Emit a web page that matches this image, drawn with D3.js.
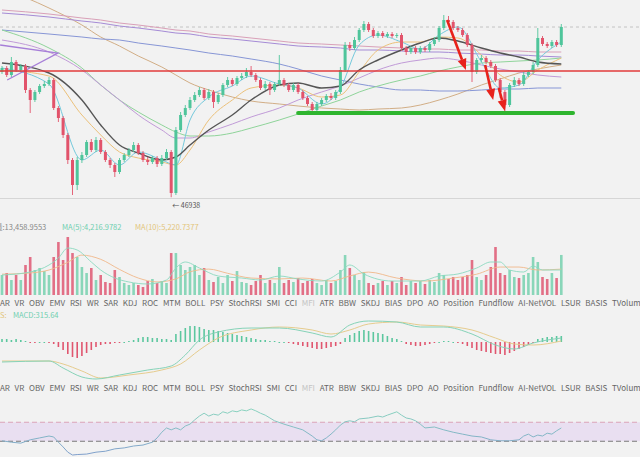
<!DOCTYPE html>
<html><head><meta charset="utf-8">
<script src="https://cdn.jsdelivr.net/npm/d3@7"></script>
<style>html,body{margin:0;padding:0;background:#f2f2f2;overflow:hidden}svg{display:block}</style>
</head><body><svg id="c" width="640" height="457"></svg>
<script>
// ---------- DATA ----------
// candles: [open, high, low, close]
const candles = [
[53200,53500,53100,53400],[53400,53500,52950,53050],[53050,53950,52950,53700],[53700,53800,53200,53300],[53300,53600,53200,53500],
[53500,53600,52150,52300],[52300,52400,51150,51800],[51800,52300,51700,52200],[52200,52600,52100,52500],[52500,52750,52400,52600],
[52600,52950,52500,52800],[52800,52900,51300,51400],[51400,51500,50700,50900],[50900,51000,49900,50050],[50050,50150,48600,48800],
[48800,48900,47050,47550],[47550,48950,47300,48800],[48800,49200,48650,49050],[49050,49800,48950,49700],[49700,49850,49200,49300],
[49300,49950,49200,49800],[49800,49900,49100,49200],[49200,49300,48700,48800],[48800,48900,48400,48550],[48550,48650,47950,48200],
[48200,48900,48100,48800],[48800,49150,48700,49050],[49050,49400,48950,49300],[49300,49700,49200,49550],[49550,49650,49050,49150],
[49150,49250,48700,48800],[48800,48950,48550,48700],[48700,49000,48600,48900],[48900,49000,48450,48600],[48600,49050,48500,48900],
[48900,49350,48800,49200],[49200,49300,46938,47150],[47150,50450,47050,50300],[50300,51200,50200,51050],[51050,51550,50950,51400],
[51400,51950,51300,51800],[51800,52200,51700,52050],[52050,52450,51950,52300],[52300,52400,51800,51900],[51900,52350,51800,52200],
[52200,52300,51400,51700],[51700,52150,51600,52050],[52050,52650,51950,52550],[52550,52950,52450,52800],[52800,52900,52500,52600],
[52600,53000,52500,52900],[52900,53150,52800,53000],[53000,53400,52900,53200],[53200,53500,52950,53050],[53050,53150,52700,52800],
[52800,52900,52300,52400],[52400,52750,52300,52600],[52600,52700,52050,52300],[52300,52700,52200,52600],[52600,54050,52500,52800],
[52800,52900,52450,52550],[52550,52650,52200,52300],[52300,52650,52200,52550],[52550,52650,52100,52200],[52200,52300,51800,51900],
[51900,52000,51500,51600],[51600,51700,51050,51300],[51300,51700,51200,51600],[51600,51900,51500,51800],[51800,52100,51700,52000],
[52000,52150,51800,51900],[51900,52300,51800,52200],[52200,53450,52100,53300],[53300,54700,53200,54550],[54550,54700,54250,54400],
[54400,54950,54300,54800],[54800,55400,54700,55300],[55300,55750,55200,55600],[55600,55700,55200,55300],[55300,55400,54900,55000],
[55000,55250,54900,55150],[55150,55250,54900,55000],[55000,55200,54900,55100],[55100,55200,54900,55000],[55000,55150,54900,55050],
[55050,55150,54250,54400],[54400,54500,54050,54200],[54200,54500,54100,54400],[54400,54500,54100,54200],[54200,54500,54100,54400],
[54400,54500,54200,54300],[54300,54700,54200,54600],[54600,54950,54500,54800],[54800,55500,54700,55400],[55400,56050,55300,55800],
[55800,56000,55600,55700],[55700,55800,55300,55400],[55400,55500,55200,55300],[55300,55400,54950,55050],[55050,55150,54450,54550],
[54550,54650,52700,53200],[53200,53900,53100,53800],[53800,54050,53700,53900],[53900,54000,53600,53700],[53700,53800,53400,53500],
[53500,53600,52700,52800],[52800,52900,51900,52200],[52200,52300,51200,51550],[51550,52650,51450,52550],[52550,52950,52450,52800],
[52800,52900,52500,52600],[52600,53200,52500,53050],[53050,53300,52950,53200],[53200,53700,53100,53550],[53550,55400,53450,54900],
[54900,55000,54500,54600],[54600,54700,54400,54500],[54500,54800,54400,54700],[54700,54800,54450,54550],[54550,55600,54450,55450]
];
const volumes = [6720,7390,5040,6720,5040,10080,12770,8400,9070,8060,6720,12770,17810,11760,19490,14110,12770,9410,7390,9070,
5040,6720,4370,4030,8400,6050,4030,3360,4030,3360,2690,4700,5380,4030,4700,4030,14110,14110,10080,8400,
9410,10080,6720,9070,5040,4370,6050,4030,6720,4700,8060,4370,4030,3360,4700,6720,4030,5040,4030,9410,
4030,5040,4370,5710,4030,4700,5380,4030,3360,5040,4030,4700,8400,13440,9070,6720,5040,7730,4030,3360,
4030,4700,3360,4700,4030,6050,3360,4700,4030,4700,3700,5040,4370,7390,6720,5380,6050,5040,6050,6720,
11760,6050,5040,6720,9410,16130,7390,6720,8400,6050,5710,6720,7390,12770,11090,6050,5380,7390,5710,13459];

// moving averages of price, read at sample candle indices
const maIdx = [0,10,17,21,25,29,34,37,40,44,49,53,59,63,68,72,76,80,85,89,93,97,102,106,110,114,119];
const maDark = [53650,53150,51800,50550,49550,49150,48800,48950,49550,50300,51050,51800,52550,52650,52400,52500,53300,53800,54300,54650,54900,54750,54400,54150,53950,53700,53600];
const maPurple = [56150,55950,55750,55650,55500,55400,55250,55150,55100,54950,54850,54750,54600,54500,54450,54400,54300,54300,54250,54200,54200,54150,54100,54050,54050,54000,53950];
const maPink = [56300,56100,55900,55800,55650,55550,55400,55300,55250,55100,55000,54900,54750,54650,54600,54550,54500,54450,54400,54350,54350,54300,54300,54250,54250,54200,54200];
const maBlue = [55300,55100,54950,54850,54800,54650,54500,54400,54300,54150,54000,53850,53600,53350,53000,52800,52600,52450,52300,52300,52250,52250,52300,52350,52350,52400,52400];
const maTan = [57400,56400,55550,54950,54500,54000,53450,53050,52650,52300,51950,51750,51600,51500,51400,51350,51300,51350,51400,51550,51800,52100,52550,52850,53150,53350,53550];
const maGreen = [55300,54400,53400,52550,51800,51200,50550,50200,50000,50000,50150,50400,50800,51100,51500,51800,52200,52500,52800,53000,53250,53450,53650,53700,53750,53800,53900];
const maOrange = [53300,53000,51050,50050,49200,48900,48700,48550,49300,50800,51800,52400,52550,52400,51950,52050,53200,54300,54700,54700,54950,54900,54050,53050,52700,53300,53900];
const maLightBlue = [53400,52600,48800,49300,48550,49200,48800,48550,50800,51950,52500,53000,52600,52400,51600,52400,54550,55050,54700,54350,55050,55450,53700,52400,52550,53800,54700];
const maLavender = [54800,54200,53300,52550,51800,51050,50300,49900,49900,50200,50600,50950,51400,51800,52200,52500,52900,53300,53650,53800,53900,53800,53550,53350,53200,53050,52950];

// volume moving averages
const vma5Idx = [0,6,10,12,14,16,19,21,24,27,31,35,37,39,42,46,51,55,59,63,68,72,74,77,83,89,93,97,101,104,106,108,111,113,115,119];
const vma5 = [6720,7730,10080,12430,15790,15120,11090,8400,5710,4370,3700,5040,9070,11090,9070,6380,5710,5040,6380,5380,4700,7730,10080,7060,4700,4700,6380,7060,9070,11090,11090,8400,7730,9740,8400,8400];
const vma10Idx = [0,6,10,14,17,21,25,29,33,37,40,44,48,53,59,64,70,74,78,84,90,96,101,106,110,114,119];
const vma10 = [7000,7400,8400,11000,13400,12000,8600,5700,4400,5400,7800,8700,7300,5700,5400,5700,4700,6400,7700,5700,4700,5700,7000,9400,9400,8400,8700];

// MACD histogram per candle, DIF / DEA at sample indices
const macdHist = [180,180,120,180,120,60,-60,-60,0,0,-60,-120,-300,-480,-720,-900,-960,-840,-660,-480,
-300,-180,-120,-120,-60,-60,0,60,120,240,300,300,240,240,180,180,120,480,660,840,
960,960,900,780,720,720,660,600,540,480,420,360,300,240,180,120,120,60,60,0,
0,-60,-120,-180,-240,-300,-360,-420,-420,-360,-300,-240,-120,240,420,540,660,720,660,600,
540,480,360,240,180,60,-120,-180,-240,-240,-180,-120,-60,0,60,60,0,-60,-120,-240,
-360,-480,-540,-600,-660,-720,-720,-780,-660,-540,-420,-300,-180,-60,180,240,300,300,360,360];
const difIdx = [0,10,13,17,20,25,31,36,39,42,46,53,59,66,70,74,78,84,89,94,100,105,109,113,119];
const dif = [-1200,-1140,-1560,-2100,-2220,-1980,-1680,-1440,-780,120,600,840,840,540,300,1020,1260,1200,900,900,480,-180,-420,-60,240];
const deaIdx = [0,10,13,17,21,27,34,38,42,46,53,59,66,70,74,78,84,89,94,100,105,109,113,119];
const dea = [-1140,-1140,-1320,-1740,-2160,-1980,-1680,-1320,-480,240,720,900,720,480,720,1080,1200,1020,960,720,240,-120,-180,60];

// RSI at sample indices
const rsiIdx = [0,2,4,6,8,10,11,12,13,14,15,16,18,20,22,24,26,28,30,32,33,34,35,36,37,38,39,40,41,42,43,44,45,46,47,48,49,50,51,52,53,54,55,56,57,58,60,62,64,66,67,68,69,70,71,72,73,74,75,76,78,80,81,82,84,85,86,87,88,89,90,92,94,96,98,100,102,104,106,108,110,111,112,113,114,115,116,117,118,119];
const rsi = [31,28,26,33,37,41,39,28,18,7,1,2,3,7,9,14,16,20,22,28,37,49,58,54,58,54,62,66,75,83,89,83,87,85,92,89,94,92,96,94,98,94,89,85,79,73,66,60,54,41,33,31,37,45,54,64,71,73,71,77,79,83,81,85,92,85,79,77,73,66,58,60,54,49,45,41,39,33,31,31,33,41,45,39,43,41,47,45,52,58];

// annotations (candle index, price)
const resistanceLevel = 53250;
const supportLevel = 51150, supportFrom = 63, supportTo = 121.5;
const dashedLevel = 55450;
const arrows = [[94.7,55800,98.7,53300],[102.8,53550,104.5,51800],[105.7,52400,107,51250]];
const wedge = [[-0.4,54550],[11.9,54150],[1.1,52800]];
const lowIdx = 36, lowValue = 46938;

const tabs = ["AR","VR","OBV","EMV","RSI","WR","SAR","KDJ","ROC","MTM","BOLL","PSY","StochRSI","SMI","CCI","MFI","ATR","BBW","SKDJ","BIAS","DPO","AO","Position","Fundflow","AI-NetVOL","LSUR","BASIS","TVolume"];
const volLabel = {sym:"量:", val:"13,458.9553", ma5:"MA(5):4,216.9782", ma10:"MA(10):5,220.7377"};
const macdLabel = {pre:"S:", val:"MACD:315.64"};

// ---------- DRAW ----------
const svg = d3.select("#c");
const W = 640;
const FONT = "'Noto Sans CJK SC','Noto Sans',sans-serif";
const UP = "#4fc59b", DOWN = "#e2536b";

const x = d3.scaleLinear().domain([0,119]).range([2,561.3]);
const yP = d3.scaleLinear().domain([46800,56800]).range([200,0]);
const yV = d3.scaleLinear().domain([0,20000]).range([295,235.5]);
const yM = d3.scaleLinear().domain([-2580,2520]).range([385,300]);
const yR = d3.scaleLinear().domain([0,100]).range([455.5,408]);

svg.append("rect").attr("width",640).attr("height",457).attr("fill","#f2f2f2");

const defs = svg.append("defs");
defs.append("clipPath").attr("id","mainClip").append("rect").attr("x",0).attr("y",0).attr("width",640).attr("height",198);
const grad = defs.append("linearGradient").attr("id","rsiGrad").attr("gradientUnits","userSpaceOnUse")
  .attr("x1",0).attr("y1",405).attr("x2",0).attr("y2",457);
grad.append("stop").attr("offset","0%").attr("stop-color","#8ad8bd");
grad.append("stop").attr("offset","100%").attr("stop-color","#7f9ccc");

// ---- main chart ----
const main = svg.append("g").attr("clip-path","url(#mainClip)");
main.append("line").attr("x1",0).attr("x2",W).attr("y1",yP(dashedLevel)).attr("y2",yP(dashedLevel))
  .attr("stroke","#b8b8b8").attr("stroke-width",0.8).attr("stroke-dasharray","3,3");

const lineGen = (idx, vals, ys) => d3.line().x((d,i)=>x(idx[i])).y(d=>ys(d)).curve(d3.curveMonotoneX)(vals);
const mas = [
  [maTan,"#d2ae86",1],[maPink,"#d9a0b8",1],[maPurple,"#a58bd6",1],[maBlue,"#8796d6",1],
  [maGreen,"#8fd49a",1],[maLavender,"#c19bd8",1],[maOrange,"#ecc17a",1],[maLightBlue,"#74c9dc",1],[maDark,"#555555",1.4]
];
mas.forEach(([v,c,w]) => main.append("path").attr("d",lineGen(maIdx,v,yP)).attr("fill","none").attr("stroke",c).attr("stroke-width",w));

// purple wedge drawing
main.append("path").attr("d",d3.line().x(d=>x(d[0])).y(d=>yP(d[1]))(wedge))
  .attr("fill","none").attr("stroke","#a77fd8").attr("stroke-width",1.3);

// candles
const cg = main.append("g");
candles.forEach((d,i)=>{
  const [o,h,l,c] = d; const col = c>=o?UP:DOWN; const cx = x(i);
  cg.append("line").attr("x1",cx).attr("x2",cx).attr("y1",yP(h)).attr("y2",yP(l)).attr("stroke",col).attr("stroke-width",0.9);
  const top = yP(Math.max(o,c)), bot = yP(Math.min(o,c));
  cg.append("rect").attr("x",cx-1.5).attr("y",top).attr("width",3).attr("height",Math.max(1,bot-top)).attr("fill",col);
});

// resistance & support
main.append("line").attr("x1",0).attr("x2",W).attr("y1",yP(resistanceLevel)).attr("y2",yP(resistanceLevel))
  .attr("stroke","#e23b3b").attr("stroke-width",1.5);
main.append("line").attr("x1",x(supportFrom)).attr("x2",x(supportTo)).attr("y1",yP(supportLevel)).attr("y2",yP(supportLevel))
  .attr("stroke","#2fb52f").attr("stroke-width",4).attr("stroke-linecap","round");

// arrows
arrows.forEach(([i0,p0,i1,p1])=>{
  const x0=x(i0),y0=yP(p0),x1=x(i1),y1=yP(p1);
  const dx=x1-x0,dy=y1-y0,L=Math.hypot(dx,dy),ux=dx/L,uy=dy/L;
  const hl=11,hw=4.5;
  const bx=x1-ux*hl,by=y1-uy*hl;
  main.append("line").attr("x1",x0).attr("y1",y0).attr("x2",bx).attr("y2",by).attr("stroke","#e8221b").attr("stroke-width",2.6);
  main.append("path").attr("d",`M${x1},${y1}L${bx-uy*hw},${by+ux*hw}L${bx+uy*hw},${by-ux*hw}Z`).attr("fill","#e8221b");
});

svg.append("line").attr("x1",0).attr("x2",W).attr("y1",198.5).attr("y2",198.5).attr("stroke","#d6d6d6").attr("stroke-width",1);
svg.append("text").attr("x",x(lowIdx)+1).attr("y",208).attr("font-family",FONT).attr("font-size",7).attr("fill","#555")
  .text("← "+lowValue);

// ---- volume ----
svg.append("text").attr("x",-5).attr("y",230).attr("font-family",FONT).attr("font-size",7.5).attr("fill","#888")
  .text(volLabel.sym+volLabel.val);
svg.append("text").attr("x",62).attr("y",230).attr("font-family",FONT).attr("font-size",7.5).attr("fill","#6fcfb0").text(volLabel.ma5);
svg.append("text").attr("x",135).attr("y",230).attr("font-family",FONT).attr("font-size",7.5).attr("fill","#e3c57a").text(volLabel.ma10);
const vg = svg.append("g");
volumes.forEach((v,i)=>{
  const [o,,,c] = candles[i];
  vg.append("rect").attr("x",x(i)-1.3).attr("y",yV(v)).attr("width",2.6).attr("height",yV(0)-yV(v))
    .attr("fill",c>=o?"#7dd3b3":"#e0607a").attr("opacity",0.9);
});
svg.append("path").attr("d",d3.line().x((d,i)=>x(vma10Idx[i])).y(d=>yV(d)).curve(d3.curveMonotoneX)(vma10))
  .attr("fill","none").attr("stroke","#f0b88a").attr("stroke-width",0.9);
svg.append("path").attr("d",d3.line().x((d,i)=>x(vma5Idx[i])).y(d=>yV(d)).curve(d3.curveMonotoneX)(vma5))
  .attr("fill","none").attr("stroke","#8bd9bf").attr("stroke-width",0.9);

// ---- tabs ----
function drawTabs(yb){
  const g = svg.append("g");
  const nodes = tabs.map(t => g.append("text").attr("y",yb).attr("font-family",FONT).attr("font-size",8)
     .attr("fill", t==="MFI" ? "#c4c4c4" : "#666").text(t));
  const widths = nodes.map(n=>n.node().getComputedTextLength());
  const total = d3.sum(widths.slice(0,-1));
  const gap = (612 - total)/(tabs.length-1);
  let cx = 0;
  nodes.forEach((n,i)=>{ n.attr("x",cx); cx += widths[i]+gap; });
}
drawTabs(306);
drawTabs(391);

// ---- MACD ----
svg.append("text").attr("x",0).attr("y",318).attr("font-family",FONT).attr("font-size",7.5).attr("fill","#e3c57a").text(macdLabel.pre);
svg.append("text").attr("x",13).attr("y",318).attr("font-family",FONT).attr("font-size",7.5).attr("fill","#6fcfb0").text(macdLabel.val);
const mg = svg.append("g");
macdHist.forEach((v,i)=>{
  const y0 = yM(0), y1 = yM(v);
  mg.append("rect").attr("x",x(i)-0.8).attr("y",Math.min(y0,y1)).attr("width",1.6).attr("height",Math.max(1,Math.abs(y1-y0)))
    .attr("fill", v>=0 ? "#5cc79f" : "#e0566f");
});
svg.append("path").attr("d",d3.line().x((d,i)=>x(deaIdx[i])).y(d=>yM(d)).curve(d3.curveMonotoneX)(dea))
  .attr("fill","none").attr("stroke","#e6cc8e").attr("stroke-width",1);
svg.append("path").attr("d",d3.line().x((d,i)=>x(difIdx[i])).y(d=>yM(d)).curve(d3.curveMonotoneX)(dif))
  .attr("fill","none").attr("stroke","#86d3b8").attr("stroke-width",1);

// ---- RSI ----
svg.append("rect").attr("x",0).attr("y",yR(70)).attr("width",W).attr("height",yR(30)-yR(70)).attr("fill","#e9dff1");
svg.append("line").attr("x1",0).attr("x2",W).attr("y1",yR(70)).attr("y2",yR(70)).attr("stroke","#dba2b8").attr("stroke-width",1).attr("stroke-dasharray","5,3");
svg.append("line").attr("x1",0).attr("x2",W).attr("y1",yR(30)).attr("y2",yR(30)).attr("stroke","#7a7a7a").attr("stroke-width",1).attr("stroke-dasharray","5,3");
svg.append("path").attr("d",d3.line().x((d,i)=>x(rsiIdx[i])).y(d=>yR(d))(rsi))
  .attr("fill","none").attr("stroke","url(#rsiGrad)").attr("stroke-width",1);
</script></body></html>
